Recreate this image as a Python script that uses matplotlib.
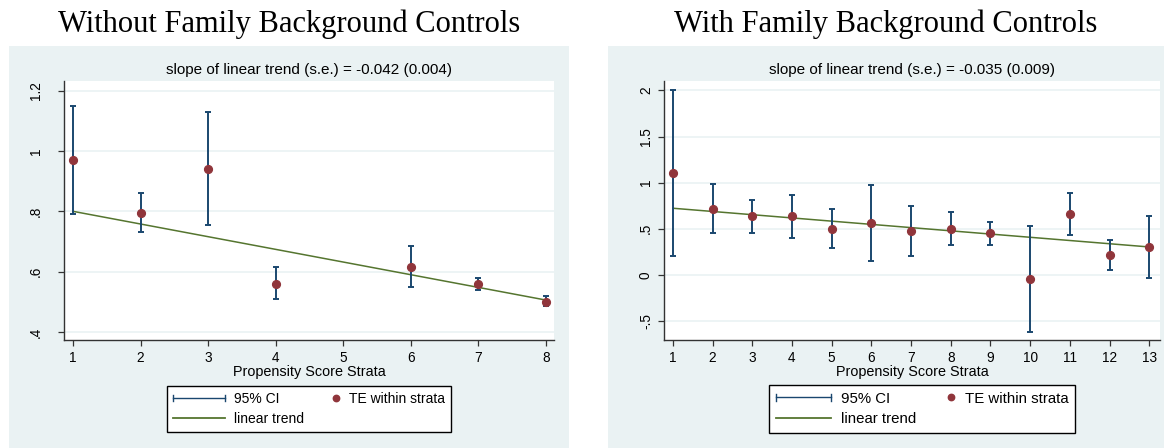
import matplotlib
matplotlib.use('Agg')
import matplotlib.pyplot as plt
from matplotlib.patches import Rectangle
from matplotlib.lines import Line2D
from matplotlib.legend_handler import HandlerBase

# ---------------- data ----------------
strata_left = [1, 2, 3, 4, 6, 7, 8]
te_left = [0.97, 0.795, 0.94, 0.56, 0.617, 0.558, 0.50]
ci_lo_left = [0.79, 0.73, 0.755, 0.51, 0.55, 0.54, 0.485]
ci_hi_left = [1.15, 0.86, 1.13, 0.615, 0.685, 0.578, 0.52]
trend_left = (0.842, -0.042)
yticks_left = [0.4, 0.6, 0.8, 1.0, 1.2]
yticklabels_left = ['.4', '.6', '.8', '1', '1.2']
xticks_left = [1, 2, 3, 4, 5, 6, 7, 8]

strata_right = [1, 2, 3, 4, 5, 6, 7, 8, 9, 10, 11, 12, 13]
te_right = [1.10, 0.72, 0.64, 0.64, 0.50, 0.565, 0.477, 0.50, 0.455, -0.043, 0.66, 0.217, 0.307]
ci_lo_right = [0.20, 0.45, 0.455, 0.405, 0.29, 0.15, 0.20, 0.32, 0.325, -0.62, 0.437, 0.05, -0.03]
ci_hi_right = [2.00, 0.99, 0.81, 0.87, 0.715, 0.975, 0.75, 0.685, 0.575, 0.535, 0.886, 0.383, 0.644]
trend_right = (0.758, -0.035)
yticks_right = [-0.5, 0, 0.5, 1.0, 1.5, 2.0]
yticklabels_right = ['-.5', '0', '.5', '1', '1.5', '2']
xticks_right = list(range(1, 14))

titles = ['Without Family Background Controls', 'With Family Background Controls']
subtitles = ['slope of linear trend (s.e.) = -0.042 (0.004)',
             'slope of linear trend (s.e.) = -0.035 (0.009)']
xlabel = 'Propensity Score Strata'
legend_labels = ['95% CI', 'linear trend', 'TE within strata']

# ---------------- style ----------------
BG = '#eaf2f3'
NAVY = '#1a476f'
MAROON = '#90353b'
GREEN = '#55752f'
SANS = ['Liberation Sans', 'DejaVu Sans']
SERIF = ['Liberation Serif', 'DejaVu Serif']

W, H = 1164, 448
fig = plt.figure(figsize=(W / 100, H / 100), dpi=100)
fig.patch.set_facecolor('white')


def fx(x):
    return x / W


def fy(y):
    return 1 - y / H


class HandlerCI(HandlerBase):
    def create_artists(self, legend, orig_handle, xdescent, ydescent,
                       width, height, fontsize, trans):
        y = height / 2 - ydescent
        x0, x1 = -xdescent, -xdescent + width
        cap = height * 0.3
        l1 = Line2D([x0, x1], [y, y], color=NAVY, lw=1.0, transform=trans)
        l2 = Line2D([x0, x0], [y - cap, y + cap], color=NAVY, lw=1.0, transform=trans)
        l3 = Line2D([x1, x1], [y - cap, y + cap], color=NAVY, lw=1.0, transform=trans)
        return [l1, l2, l3]


class HandlerDotRight(HandlerBase):
    def create_artists(self, legend, orig_handle, xdescent, ydescent,
                       width, height, fontsize, trans):
        y = height / 2 - ydescent
        x1 = -xdescent + width - 3
        m = Line2D([x1], [y], marker='o', color=MAROON, markersize=4.6,
                   linestyle='none', transform=trans)
        return [m]


panels = [
    dict(bg=(9, 46, 569, 448), ax=(64, 81, 554, 340), xlim=(0.867, 8.123), ylim=(0.3735, 1.232),
         x=strata_left, te=te_left, lo=ci_lo_left, hi=ci_hi_left, trend=trend_left,
         yt=yticks_left, ytl=yticklabels_left, xt=xticks_left, leg=(309, 409), lfs=1.0, ypad=11),
    dict(bg=(608, 46, 1164, 448), ax=(664, 81, 1160, 340), xlim=(0.776, 13.27), ylim=(-0.706, 2.103),
         x=strata_right, te=te_right, lo=ci_lo_right, hi=ci_hi_right, trend=trend_right,
         yt=yticks_right, ytl=yticklabels_right, xt=xticks_right, leg=(922, 409), lfs=1.08, ypad=4),
]

for i, p in enumerate(panels):
    bx0, by0, bx1, by1 = p['bg']
    fig.patches.append(Rectangle((fx(bx0), fy(by1)), fx(bx1 - bx0), (by1 - by0) / H,
                                 transform=fig.transFigure, facecolor=BG, edgecolor='none', zorder=-5))
    fig.text(fx((bx0 + bx1) / 2), fy(24), titles[i], ha='center', va='center',
             fontsize=22, family=SERIF, color='black')

    x0, y0, x1, y1 = p['ax']
    ax = fig.add_axes([fx(x0), fy(y1), fx(x1 - x0), (y1 - y0) / H])
    ax.set_facecolor('white')
    ax.set_xlim(*p['xlim'])
    ax.set_ylim(*p['ylim'])
    for s in ['top', 'right']:
        ax.spines[s].set_visible(False)
    for s in ['left', 'bottom']:
        ax.spines[s].set_color('#333333')
        ax.spines[s].set_linewidth(1.0)
    ax.set_yticks(p['yt'])
    ax.set_yticklabels(p['ytl'], rotation=90, va='center', fontsize=9.8, family=SANS)
    ax.set_xticks(p['xt'])
    ax.set_xticklabels([str(v) for v in p['xt']], fontsize=9.8, family=SANS)
    ax.tick_params(axis='both', direction='out', length=4, width=0.9, color='#333333')
    ax.tick_params(axis='x', pad=4)
    ax.tick_params(axis='y', pad=p['ypad'])
    ax.grid(axis='y', color=BG, linewidth=1.2, zorder=0)
    ax.set_axisbelow(True)

    a, b = p['trend']
    xs = [p['x'][0], p['x'][-1]]
    ax.plot(xs, [a + b * xs[0], a + b * xs[1]], color=GREEN, lw=1.1, zorder=2)
    yerr = [[t - l for t, l in zip(p['te'], p['lo'])], [h - t for t, h in zip(p['te'], p['hi'])]]
    ax.errorbar(p['x'], p['te'], yerr=yerr, fmt='none', ecolor=NAVY, elinewidth=1.4,
                capsize=2.5, capthick=1.4, zorder=3)
    ax.plot(p['x'], p['te'], 'o', color=MAROON, markersize=5.6, zorder=4)

    ax.set_xlabel(xlabel, fontsize=10.4, family=SANS, labelpad=0)
    ax.set_title(subtitles[i], fontsize=11, family=SANS, pad=5)

    h_ci = Line2D([], [], color=NAVY)
    h_tr = Line2D([], [], color=GREEN, lw=1.3)
    h_te = Line2D([], [], color=MAROON, marker='o', linestyle='none')
    leg = fig.legend([h_ci, h_tr, h_te], legend_labels, ncol=2, loc='center',
                     bbox_to_anchor=(fx(p['leg'][0]), fy(p['leg'][1])),
                     handler_map={h_ci: HandlerCI(), h_te: HandlerDotRight()},
                     prop={'family': SANS, 'size': 10 * p['lfs']},
                     frameon=True, fancybox=False, edgecolor='black', facecolor='white',
                     framealpha=1, handlelength=3.7, handletextpad=0.65, columnspacing=-1.1,
                     labelspacing=0.45, borderpad=0.45, borderaxespad=0)
    leg.get_frame().set_linewidth(1.0)

fig.savefig('out.png', dpi=100)
